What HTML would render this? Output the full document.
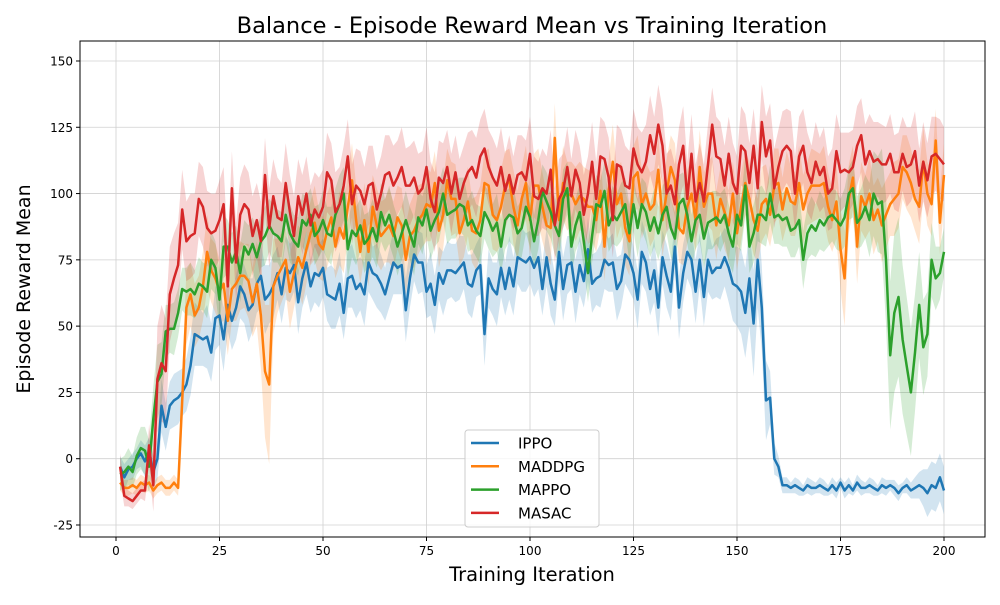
<!DOCTYPE html>
<html><head><meta charset="utf-8"><style>
body{margin:0;background:#fff;font-family:"Liberation Sans","DejaVu Sans",sans-serif}
svg text{font-family:"DejaVu Sans","Liberation Sans",sans-serif}
</style></head><body>
<svg id="chart" width="1000" height="600" viewBox="0 0 1000 600" xmlns="http://www.w3.org/2000/svg">
<rect width="1000" height="600" fill="#fff"/>
<text x="532" y="33" text-anchor="middle" font-size="22.5">Balance - Episode Reward Mean vs Training Iteration</text>
<g id="grid"></g><g id="bands"></g><g id="lines"></g><g id="axes"></g>
<rect x="80" y="41" width="905" height="496" fill="none" stroke="#000" stroke-width="1"/>
<text x="532" y="581" text-anchor="middle" font-size="19.5">Training Iteration</text>
<text transform="translate(30,289) rotate(-90)" text-anchor="middle" font-size="19">Episode Reward Mean</text>
<g id="legend"></g>
</svg>
<script>
const seriesNames=["IPPO","MADDPG","MAPPO","MASAC"];
const seriesColors=["#1f77b4","#ff7f0e","#2ca02c","#d62728"];
const xTicks=[0,25,50,75,100,125,150,175,200];
const yTicks=[-25,0,25,50,75,100,125,150];
const ippo=[-3,-7,-4,-3,0,2,-1,3,-5,0,20,12,20,22,23,25,28,35,47,46,45,46,40,53,54,45,58,52,57,65,62,56,58,66,69,60,62,65,70,62,72,70,73,59,68,74,65,70,69,72,62,61,60,66,55,68,69,64,66,62,74,70,69,66,62,68,74,72,73,56,68,77,74,74,63,66,58,70,66,71,71,70,72,74,66,65,71,73,47,68,64,62,72,64,72,65,76,75,74,76,72,76,64,76,66,60,78,64,73,74,63,73,67,79,66,68,69,75,73,74,64,67,77,75,70,60,78,74,64,71,57,76,69,63,80,57,70,78,75,63,75,61,75,70,72,72,76,72,66,65,63,55,68,51,75,57,22,23,0,-3,-10,-10,-11,-10,-11,-12,-10,-11,-11,-10,-11,-12,-10,-12,-9,-12,-10,-12,-9,-11,-11,-10,-11,-12,-10,-11,-10,-11,-13,-11,-10,-12,-11,-10,-11,-13,-10,-11,-7,-12];
const maddpg=[-9,-11,-11,-10,-11,-9,-10,-9,-12,-10,-9,-11,-11,-9,-11,22,57,62,54,57,65,78,71,68,63,66,52,64,66,69,69,67,59,66,54,33,28,65,69,72,75,63,70,76,72,79,85,89,81,79,86,91,80,87,83,95,105,90,78,90,78,95,88,84,86,88,84,91,88,75,84,86,90,92,96,95,104,86,92,105,98,98,85,90,97,86,85,90,104,103,92,90,95,103,105,95,88,98,104,90,103,103,95,88,87,121,90,104,99,100,96,99,98,95,95,90,101,80,101,112,96,100,87,82,106,108,96,100,94,96,109,90,100,110,105,87,85,95,100,90,110,95,100,100,88,98,93,88,100,85,95,104,98,90,86,96,98,92,103,104,94,102,97,96,104,94,100,103,103,103,104,95,90,97,79,68,98,106,80,99,95,100,90,94,88,92,96,98,100,110,108,104,98,95,112,100,96,120,89,107];
const mappo=[-6,-5,-3,-5,1,4,3,-3,15,29,32,48,49,49,55,64,63,64,62,66,65,63,75,72,60,80,80,74,78,70,80,77,81,76,82,84,88,85,84,82,92,85,82,80,90,88,92,84,86,90,85,84,92,96,100,79,86,84,88,81,83,87,82,93,88,92,86,80,85,90,85,80,91,88,94,86,90,93,100,92,93,94,96,95,88,90,86,84,93,90,86,89,80,90,92,91,85,87,95,91,82,90,101,97,93,88,84,98,102,80,88,93,82,70,84,96,95,101,88,92,90,93,96,85,96,87,96,93,86,91,85,92,95,87,83,96,98,92,82,90,92,83,89,90,91,89,92,85,80,92,88,103,80,85,92,92,90,100,91,92,90,91,86,87,90,75,85,88,86,90,88,91,92,90,88,91,100,102,89,91,95,90,100,96,97,75,39,55,61,45,35,25,40,58,42,47,75,68,70,78];
const masac=[-3,-14,-15,-16,-14,-12,-12,5,-10,30,36,33,62,68,73,94,82,84,85,98,95,87,85,86,90,96,65,102,74,92,96,94,84,90,82,107,87,99,91,90,104,93,84,99,92,100,88,94,91,95,108,105,93,96,103,114,96,103,101,96,103,104,94,100,107,108,103,106,110,103,103,106,100,102,110,98,93,106,104,110,100,108,98,104,108,110,106,114,117,110,106,103,110,101,107,100,107,108,105,115,99,98,102,100,109,88,98,101,110,99,109,104,92,100,112,98,114,113,106,90,111,110,103,102,117,111,108,112,122,115,126,118,100,103,96,111,118,98,115,97,104,97,111,126,114,113,103,115,104,100,118,116,104,118,102,127,114,120,102,110,116,118,116,100,114,118,108,104,112,107,110,100,102,116,108,109,108,110,118,122,111,116,112,113,111,111,115,108,108,115,110,111,116,103,112,105,114,115,113,111];
const ippoStd=[4,5,4,5,4,5,6,5,6,8,10,9,9,10,10,9,10,11,12,11,10,12,11,12,11,12,10,11,12,12,11,12,10,11,12,13,11,12,10,11,12,11,10,12,11,12,10,11,12,11,10,12,11,12,10,11,12,11,10,12,11,10,12,11,10,11,12,10,11,12,11,10,12,11,10,12,11,10,12,11,10,11,12,10,11,12,10,11,12,11,10,12,11,10,12,11,10,12,11,10,11,12,10,11,12,10,11,12,11,10,12,11,10,12,11,10,12,11,10,11,12,10,11,12,10,11,12,11,10,12,11,10,12,11,10,12,11,10,11,12,10,11,12,10,11,12,11,13,14,15,16,17,18,20,18,16,15,10,6,4,3,3,2,3,3,2,3,3,2,3,3,2,3,3,2,3,3,2,3,3,2,3,3,2,3,3,2,3,3,2,3,3,4,5,7,9];
const maddpgStd=[3,3,3,3,3,3,3,3,3,3,3,3,3,3,3,10,14,12,12,12,13,14,12,13,12,14,13,12,14,13,12,14,13,16,20,25,30,18,14,13,12,14,13,12,14,13,12,14,13,12,14,13,12,14,13,12,14,13,12,14,13,12,14,13,12,14,13,12,14,13,12,14,13,12,14,13,12,14,13,12,14,13,12,14,13,12,14,13,12,14,13,12,14,13,12,14,13,12,14,13,12,14,13,12,14,13,12,14,13,12,14,13,12,14,13,12,14,13,12,14,13,12,14,13,12,14,13,12,14,13,12,14,13,12,14,13,12,14,13,12,14,13,12,14,13,12,14,13,12,14,13,12,14,13,12,14,13,12,14,13,12,14,13,12,14,13,12,14,13,12,14,13,12,14,15,18,13,12,14,13,12,14,13,12,14,13,12,14,13,12,14,13,12,14,13,12];
const mappoStd=[6,6,7,6,7,8,9,10,12,14,12,10,9,10,9,8,9,10,9,10,9,10,11,10,11,12,10,11,10,11,10,11,10,11,10,11,10,11,10,11,10,11,10,11,10,11,10,11,10,11,10,11,10,11,10,11,10,11,10,11,10,11,10,11,10,11,10,11,10,11,10,11,10,11,10,11,10,11,10,11,10,11,10,11,10,11,10,11,10,11,10,11,10,11,10,11,10,11,10,11,10,11,10,11,10,11,10,11,10,11,10,11,10,11,10,11,10,11,10,11,10,11,10,11,10,11,10,11,10,11,10,11,10,11,10,11,10,11,10,11,10,11,10,11,10,11,10,11,10,11,10,11,10,11,10,11,10,11,10,11,10,11,10,11,10,11,10,11,10,11,10,11,10,11,10,11,10,11,10,11,12,14,16,18,20,24,28,30,30,28,26,24,22,20,18,16,14,12,10,9];
const masacStd=[5,4,3,3,3,3,4,8,10,20,22,20,18,17,16,15,15,16,15,14,15,14,15,14,15,14,15,14,15,14,15,14,15,14,15,14,15,14,15,14,15,14,15,14,15,14,15,14,15,14,15,14,15,14,15,14,15,14,15,14,15,14,15,14,15,14,15,14,15,14,15,14,15,14,15,14,15,14,15,14,15,14,15,14,15,14,15,14,15,14,15,14,15,14,15,14,15,14,15,14,15,14,15,14,15,14,15,14,15,14,15,14,15,14,15,14,15,14,15,14,15,14,15,14,15,14,15,14,15,14,15,14,15,14,15,14,15,14,15,14,15,14,15,14,15,14,15,14,15,14,15,14,15,14,15,14,15,14,15,14,15,14,15,14,15,14,15,14,15,14,15,14,15,14,15,14,15,14,15,14,15,14,15,14,15,14,15,14,15,14,15,14,15,14,15,14,15,14,15,14];
const seriesData=[ippo,maddpg,mappo,masac];
const seriesStd=[ippoStd,maddpgStd,mappoStd,masacStd];
const NS="http://www.w3.org/2000/svg";
const X0=80,X1=985,Y0=41,Y1=537;
const xs=v=>116+(v-0)*(944-116)/200;
const ys=v=>458.7-v*(464/175);
function mk(tag,attrs,parent){const e=document.createElementNS(NS,tag);for(const k in attrs)e.setAttribute(k,attrs[k]);parent.appendChild(e);return e;}
const grid=document.getElementById('grid'),axes=document.getElementById('axes');
xTicks.forEach(t=>{const x=xs(t);
 const g=mk('line',{x1:x,x2:x,y1:Y0,y2:Y1,stroke:'#d0d0d0','stroke-width':0.8},grid);
 
 
 mk('line',{x1:x,x2:x,y1:Y1,y2:Y1+4,stroke:'#000'},axes);
 const tx=mk('text',{x:x,y:Y1+18,'text-anchor':'middle','font-size':12},axes);tx.textContent=t;
 
 });
yTicks.forEach(t=>{const y=ys(t);
 const g=mk('line',{x1:X0,x2:X1,y1:y,y2:y,stroke:'#d0d0d0','stroke-width':0.8},grid);
 
 
 mk('line',{x1:X0-4,x2:X0,y1:y,y2:y,stroke:'#000'},axes);
 const tx=mk('text',{x:X0-7,y:y+4.5,'text-anchor':'end','font-size':12},axes);tx.textContent=t;
 
 });
const bands=document.getElementById('bands'),lines=document.getElementById('lines');
seriesData.forEach((d,si)=>{
 const sd=seriesStd[si];let up=[],lo=[];
 d.forEach((v,i)=>{const s=(sd[i]!==undefined)?sd[i]:sd[sd.length-1];
  up.push(xs(i+1).toFixed(1)+','+ys(v+s).toFixed(1));lo.push(xs(i+1).toFixed(1)+','+ys(v-s).toFixed(1));});
 const b=mk('polygon',{points:up.concat(lo.reverse()).join(' '),fill:seriesColors[si],'fill-opacity':0.2},bands);
 
 
 const p=mk('polyline',{points:d.map((v,i)=>xs(i+1).toFixed(1)+','+ys(v).toFixed(1)).join(' '),fill:'none',stroke:seriesColors[si],'stroke-width':2.5,'stroke-linejoin':'round'},lines);
 
 
});
const lg=document.getElementById('legend');
mk('rect',{x:465,y:430,width:134,height:97,rx:3,fill:'#fff','fill-opacity':0.8,stroke:'#ccc'},lg);
seriesNames.forEach((n,i)=>{const y=443+i*23.3;
 const l=mk('line',{x1:471,x2:499,y1:y,y2:y,stroke:seriesColors[i],'stroke-width':2.5},lg);
 
 
 const t=mk('text',{x:518,y:y+5.5,'font-size':15},lg);t.textContent=n;
 
 });
</script>
</body></html>
